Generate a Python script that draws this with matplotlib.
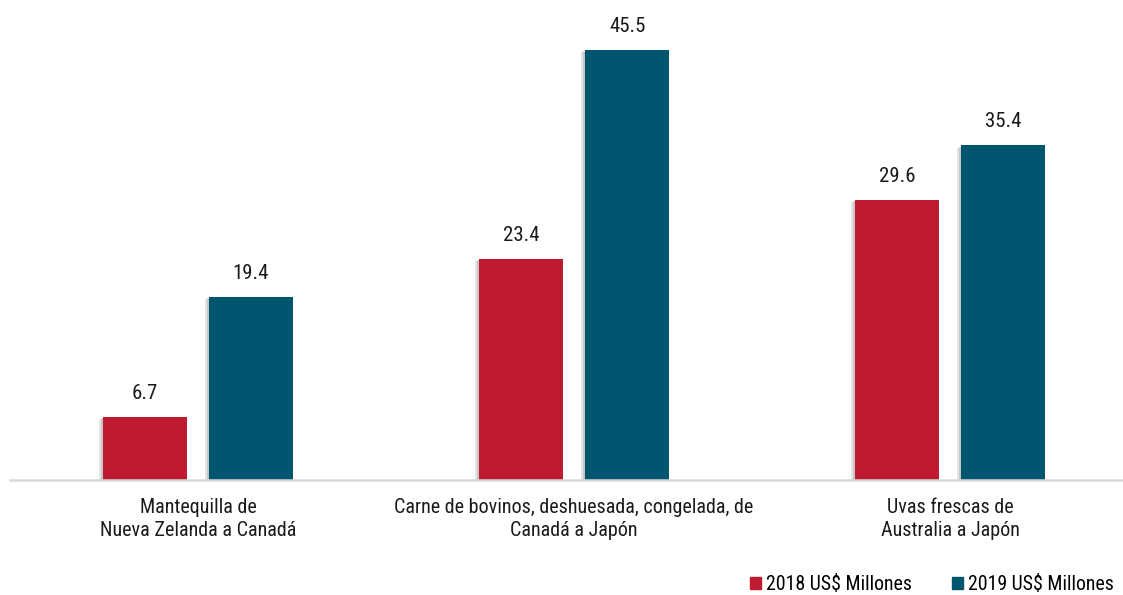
import numpy as np
import matplotlib
matplotlib.use("Agg")
import matplotlib.pyplot as plt
import matplotlib.patheffects as pe
from matplotlib.patches import Patch

plt.rcParams['font.family'] = ['Roboto Condensed', 'Liberation Sans', 'DejaVu Sans']

categories = ['Mantequilla de\nNueva Zelanda a Canadá',
              'Carne de bovinos, deshuesada, congelada, de\nCanadá a Japón',
              'Uvas frescas de\nAustralia a Japón']
vals_2018 = [6.7, 23.4, 29.6]
vals_2019 = [19.4, 45.5, 35.4]
series_names = ['2018 US$ Millones', '2019 US$ Millones']

red = '#BE1A32'
teal = '#00566E'

fig = plt.figure(figsize=(11.23, 5.95), dpi=100)
ax = fig.add_axes([10/1123, 115/595, 1112/1123, 472.5/595])

x = np.arange(len(categories))
w = 0.2234
off = 0.141
shadow = [pe.SimplePatchShadow(offset=(-3, -1.5), shadow_rgbFace='#9a9a9a', alpha=0.25),
          pe.SimplePatchShadow(offset=(-1.5, -0.8), shadow_rgbFace='#808080', alpha=0.3),
          pe.Normal()]

b1 = ax.bar(x - off, vals_2018, w, color=red, path_effects=shadow, zorder=2)
b2 = ax.bar(x + off, vals_2019, w, color=teal, path_effects=shadow, zorder=2)

for bars in (b1, b2):
    for r in bars:
        ax.annotate(f'{r.get_height():.1f}', (r.get_x() + r.get_width()/2, r.get_height()),
                    xytext=(0, 17), textcoords='offset points', ha='center', va='center',
                    fontsize=15, color='#1a1a1a')

ax.set_xlim(-0.5, 2.457)
ax.set_ylim(0, 50)
ax.set_xticks(x)
ax.set_xticklabels(categories, fontsize=14.5, color='#1a1a1a', linespacing=1.25)
ax.tick_params(axis='x', length=0, pad=13)
ax.set_yticks([])
for s in ['top', 'right', 'left']:
    ax.spines[s].set_visible(False)
ax.spines['bottom'].set_color('#D9D9D9')
ax.spines['bottom'].set_linewidth(1.8)

handles = [Patch(color=red), Patch(color=teal)]
fig.legend(handles=handles, labels=series_names, loc='center right',
           bbox_to_anchor=(1114/1123, 1 - 585/595), ncol=2, frameon=False, fontsize=14.3,
           handlelength=0.55, handleheight=0.55, handletextpad=0.25, columnspacing=2.05,
           borderpad=0, borderaxespad=0)

fig.savefig('out.png', dpi=100)
